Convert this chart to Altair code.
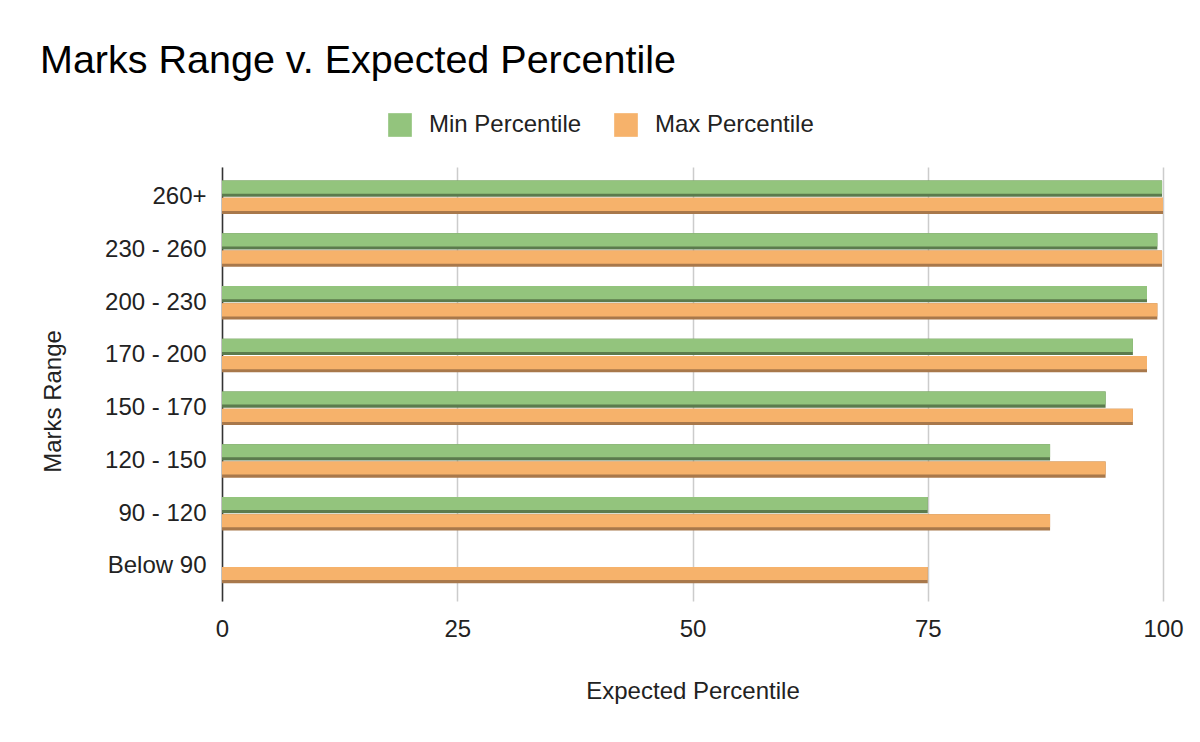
import pandas as pd
import altair as alt

# data
ranges = ["260+", "230 - 260", "200 - 230", "170 - 200",
          "150 - 170", "120 - 150", "90 - 120", "Below 90"]
min_pct = [99.9, 99.4, 98.3, 96.8, 93.9, 88, 75, 0]
max_pct = [100, 99.9, 99.4, 98.3, 96.8, 93.9, 88, 75]
series = ["Min Percentile", "Max Percentile"]
x_ticks = [0, 25, 50, 75, 100]

light = ["#93c47d", "#f6b26b"]
dark = ["#5b7b4d", "#a8784b"]

rows = []
for r, lo, hi in zip(ranges, min_pct, max_pct):
    rows.append({"range": r, "series": series[0], "value": lo})
    rows.append({"range": r, "series": series[1], "value": hi})
df = pd.DataFrame(rows)

FONT = "Liberation Sans"

y_enc = alt.Y("range:N", sort=ranges,
              scale=alt.Scale(domain=ranges, paddingInner=0.365,
                              paddingOuter=0.297, align=0.43),
              axis=alt.Axis(title="Marks Range", ticks=False, grid=False,
                            domain=True, domainColor="#333333", domainWidth=1.5,
                            labelFontSize=24, labelColor="#222222", labelPadding=16,
                            labelFont=FONT, titleFont=FONT, titleFontSize=24,
                            titleFontWeight="normal", titleColor="#222222",
                            titleAngle=-90, titleBaseline="alphabetic",
                            titleAlign="center", titleX=-162, titleY=234))
x_enc = alt.X("value:Q",
              scale=alt.Scale(domain=[0, 100], nice=False),
              axis=alt.Axis(title="Expected Percentile", values=x_ticks,
                            domain=False, ticks=False, grid=True,
                            gridColor="#cccccc", gridWidth=1.5,
                            labelFlush=False,
                            labelFontSize=24, labelColor="#222222", labelPadding=16,
                            labelFont=FONT, titleFont=FONT, titleFontSize=24,
                            titleFontWeight="normal", titleColor="#222222",
                            titlePadding=38))

# darker strip under each bar (full sub-band)
shade = alt.Chart(df).mark_bar().encode(
    x=x_enc,
    y=y_enc,
    yOffset=alt.YOffset("series:N", sort=series,
                        scale=alt.Scale(domain=series, paddingInner=0.06, paddingOuter=0)),
    color=alt.Color("series:N", scale=alt.Scale(domain=series, range=dark), legend=None),
)

# main bar face, a bit shorter so the strip shows at the bottom
face = alt.Chart(df).mark_bar().encode(
    x=x_enc,
    y=y_enc,
    yOffset=alt.YOffset("series:N", sort=series,
                        scale=alt.Scale(domain=series, paddingInner=0.236,
                                        paddingOuter=0.088, align=0)),
    color=alt.Color("series:N", scale=alt.Scale(domain=series, range=light),
                    legend=alt.Legend(title=None, orient="none", direction="horizontal",
                                      legendX=166, legendY=-54,
                                      symbolType="square", symbolSize=560,
                                      symbolStrokeWidth=0, symbolOpacity=1,
                                      labelFont=FONT, labelFontSize=24,
                                      labelColor="#222222", labelOffset=17,
                                      columnPadding=32, padding=0)),
)

chart = alt.layer(shade, face).resolve_scale(
    color="independent", yOffset="independent"
).properties(
    width=941,
    height=434,
    autosize=alt.AutoSizeParams(type="none"),
    padding={"left": 214, "top": 159, "right": 29, "bottom": 133},
    title=alt.TitleParams("Marks Range v. Expected Percentile", anchor="start",
                          frame="group", font=FONT, fontSize=39.5,
                          fontWeight="normal", color="#000000",
                          baseline="alphabetic", offset=1, dx=-182),
).configure_view(stroke=None)

chart.save("out.html", embed_options={"renderer": "svg", "actions": False})
